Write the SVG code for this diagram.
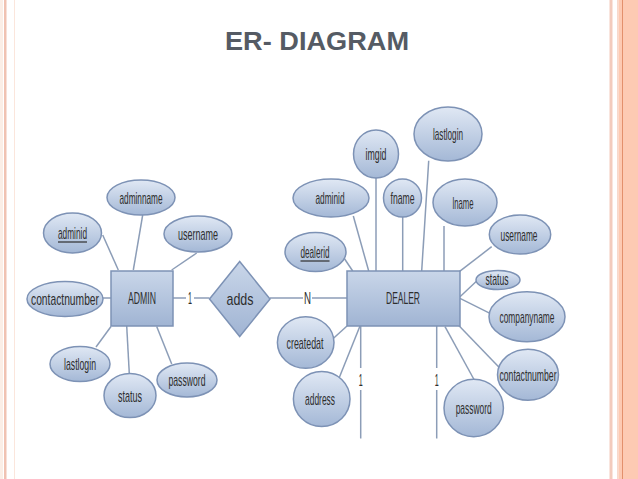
<svg xmlns="http://www.w3.org/2000/svg" width="638" height="479" viewBox="0 0 638 479">
<defs>
<linearGradient id="eg" x1="0" y1="0" x2="0" y2="1">
<stop offset="0" stop-color="#e0e8f4"/>
<stop offset="1" stop-color="#a4b8d6"/>
</linearGradient>
<linearGradient id="rg" x1="0" y1="0" x2="0" y2="1">
<stop offset="0" stop-color="#c9d6e9"/>
<stop offset="1" stop-color="#a0b4d3"/>
</linearGradient>
<style>
.e{fill:url(#eg);stroke:#7d92b5;stroke-width:1.5}
.r{fill:url(#rg);stroke:#7d92b5;stroke-width:1.5}
.t{font-family:"Liberation Sans Narrow","Liberation Sans",Arial,sans-serif;font-size:17px;fill:#2e2e2e;text-anchor:middle}
.c line{stroke:#8c9db7;stroke-width:1.5}
.lb{fill:#ffffff}
.u{stroke:#2e2e2e;stroke-width:1.2}
</style>
</defs>
<rect width="638" height="479" fill="#ffffff"/>
<!-- borders -->
<rect x="0" y="0" width="3" height="479" fill="#fbeee6"/>
<rect x="4" y="0" width="2.5" height="479" fill="#f0c2b2"/>
<rect x="14" y="0" width="1" height="479" fill="#fbe6dc"/>
<rect x="609.5" y="0" width="3" height="479" fill="#f3cbbd"/>
<rect x="617" y="0" width="1.5" height="479" fill="#f8d9cc"/>
<rect x="618.5" y="0" width="19.5" height="479" fill="#fdcab3"/>
<rect x="622" y="0" width="1" height="479" fill="#e3906c"/>
<!-- title -->
<text x="317" y="50" font-family="Liberation Sans, Arial, sans-serif" font-weight="bold" font-size="26" fill="#555b64" text-anchor="middle" textLength="184" lengthAdjust="spacingAndGlyphs">ER- DIAGRAM</text>

<g id="connectors" class="c">
<line x1="133.3" y1="270" x2="142.7" y2="215"/>
<line x1="102.7" y1="235" x2="118.3" y2="270"/>
<line x1="171.7" y1="270" x2="196.7" y2="253"/>
<line x1="103" y1="298" x2="111" y2="298"/>
<line x1="96" y1="347" x2="111" y2="326.5"/>
<line x1="126.7" y1="326" x2="129.3" y2="373.5"/>
<line x1="156.7" y1="326.5" x2="171.7" y2="364"/>
<line x1="173" y1="298" x2="209.5" y2="298"/>
<line x1="270" y1="298" x2="347" y2="298"/>
<line x1="353.3" y1="216" x2="368.7" y2="271"/>
<line x1="376" y1="178" x2="376" y2="271"/>
<line x1="402.7" y1="217" x2="402.7" y2="271"/>
<line x1="428.7" y1="160.7" x2="421.7" y2="271"/>
<line x1="444" y1="226" x2="444" y2="271"/>
<line x1="344" y1="258" x2="352.7" y2="271"/>
<line x1="491.7" y1="246.7" x2="459.3" y2="271.7"/>
<line x1="476.7" y1="281" x2="460" y2="296.7"/>
<line x1="460" y1="298.3" x2="490" y2="313.3"/>
<line x1="458.3" y1="325" x2="500" y2="368.3"/>
<line x1="445" y1="326.7" x2="474" y2="379.5"/>
<line x1="333.5" y1="338.3" x2="347" y2="326"/>
<line x1="338.3" y1="380" x2="360" y2="326"/>
<line x1="360.7" y1="326" x2="360.7" y2="438.5"/>
<line x1="436.7" y1="326" x2="436.7" y2="438.5"/>
<rect class="lb" x="186" y="289" width="8" height="17"/>
<text class="t" x="190" y="304" font-size="14" textLength="4" lengthAdjust="spacingAndGlyphs">1</text>
<rect class="lb" x="303" y="289" width="9" height="17"/>
<text class="t" x="307.5" y="304" font-size="14" textLength="7" lengthAdjust="spacingAndGlyphs">N</text>
<rect class="lb" x="357" y="368" width="8" height="22"/>
<text class="t" x="360.7" y="386" font-size="14" textLength="4" lengthAdjust="spacingAndGlyphs">1</text>
<rect class="lb" x="433" y="368" width="8" height="22"/>
<text class="t" x="436.7" y="386" font-size="14" textLength="4" lengthAdjust="spacingAndGlyphs">1</text>
</g>

<!-- ADMIN side -->
<g id="admin"><rect class="r" x="111" y="271" width="62" height="55"/><text class="t" x="142" y="304" textLength="28" lengthAdjust="spacingAndGlyphs">ADMIN</text></g>
<g id="admin-adminname"><ellipse class="e" cx="141" cy="197.5" rx="34" ry="17.5"/><text class="t" x="141" y="203.5" textLength="43" lengthAdjust="spacingAndGlyphs">adminname</text></g>
<g id="admin-adminid"><ellipse class="e" cx="72.5" cy="233" rx="29" ry="20"/><text class="t" x="72.5" y="239" textLength="29" lengthAdjust="spacingAndGlyphs">adminid</text><line class="u" x1="58" y1="242" x2="87" y2="242"/></g>
<g id="admin-username"><ellipse class="e" cx="198" cy="234" rx="34" ry="18"/><text class="t" x="198" y="240" textLength="40" lengthAdjust="spacingAndGlyphs">username</text></g>
<g id="admin-contactnumber"><ellipse class="e" cx="65" cy="299" rx="38" ry="17.5"/><text class="t" x="65" y="305" textLength="68" lengthAdjust="spacingAndGlyphs">contactnumber</text></g>
<g id="admin-lastlogin"><ellipse class="e" cx="80" cy="364" rx="30" ry="17.5"/><text class="t" x="80" y="370" textLength="32" lengthAdjust="spacingAndGlyphs">lastlogin</text></g>
<g id="admin-status"><ellipse class="e" cx="130" cy="395.5" rx="26" ry="22"/><text class="t" x="130" y="401.5" textLength="24" lengthAdjust="spacingAndGlyphs">status</text></g>
<g id="admin-password"><ellipse class="e" cx="187" cy="380" rx="30" ry="17"/><text class="t" x="187" y="386" textLength="37" lengthAdjust="spacingAndGlyphs">password</text></g>

<!-- relationship -->
<g id="adds"><polygon class="r" points="239.7,261.5 270,299 239.7,336.5 209.5,299"/><text class="t" x="240" y="305" textLength="27" lengthAdjust="spacingAndGlyphs">adds</text></g>

<!-- DEALER side -->
<g id="dealer"><rect class="r" x="347" y="271" width="113" height="55"/><text class="t" x="403" y="304" textLength="34" lengthAdjust="spacingAndGlyphs">DEALER</text></g>
<g id="dealer-imgid"><ellipse class="e" cx="376" cy="154" rx="22.5" ry="24"/><text class="t" x="376" y="160" textLength="21" lengthAdjust="spacingAndGlyphs">imgid</text></g>
<g id="dealer-lastlogin"><ellipse class="e" cx="448" cy="134" rx="34" ry="27"/><text class="t" x="448" y="140" textLength="30" lengthAdjust="spacingAndGlyphs">lastlogin</text></g>
<g id="dealer-adminid"><ellipse class="e" cx="331" cy="198" rx="38" ry="19"/><text class="t" x="330" y="204" textLength="29" lengthAdjust="spacingAndGlyphs">adminid</text></g>
<g id="dealer-fname"><ellipse class="e" cx="402.5" cy="198" rx="19" ry="19"/><text class="t" x="402.5" y="204" textLength="24" lengthAdjust="spacingAndGlyphs">fname</text></g>
<g id="dealer-lname"><ellipse class="e" cx="465" cy="202.5" rx="32" ry="23.5"/><text class="t" x="463" y="208.5" textLength="21" lengthAdjust="spacingAndGlyphs">lname</text></g>
<g id="dealer-dealerid"><ellipse class="e" cx="315.5" cy="252" rx="30.5" ry="19.5"/><text class="t" x="315" y="258" textLength="29" lengthAdjust="spacingAndGlyphs">dealerid</text><line class="u" x1="300.5" y1="261" x2="329.5" y2="261"/></g>
<g id="dealer-username"><ellipse class="e" cx="520" cy="234.5" rx="30.7" ry="19.5"/><text class="t" x="519" y="240.5" textLength="37" lengthAdjust="spacingAndGlyphs">username</text></g>
<g id="dealer-status"><ellipse class="e" cx="498" cy="280" rx="22" ry="9.5"/><text class="t" x="497" y="285" font-size="14" textLength="23" lengthAdjust="spacingAndGlyphs">status</text></g>
<g id="dealer-companyname"><ellipse class="e" cx="527" cy="316.7" rx="38" ry="25"/><text class="t" x="527" y="322.7" textLength="55" lengthAdjust="spacingAndGlyphs">companyname</text></g>
<g id="dealer-contactnumber"><ellipse class="e" cx="528" cy="374.7" rx="30.5" ry="25.5"/><text class="t" x="528" y="380.7" textLength="57" lengthAdjust="spacingAndGlyphs">contactnumber</text></g>
<g id="dealer-password"><ellipse class="e" cx="473.7" cy="408" rx="29.7" ry="28.7"/><text class="t" x="473.7" y="414" textLength="36" lengthAdjust="spacingAndGlyphs">password</text></g>
<g id="dealer-address"><ellipse class="e" cx="321.7" cy="399" rx="28.3" ry="27.5"/><text class="t" x="320" y="405" textLength="30" lengthAdjust="spacingAndGlyphs">address</text></g>
<g id="dealer-createdat"><ellipse class="e" cx="305.7" cy="342.5" rx="28.3" ry="25.8"/><text class="t" x="305" y="348.5" textLength="37" lengthAdjust="spacingAndGlyphs">createdat</text></g>
</svg>
